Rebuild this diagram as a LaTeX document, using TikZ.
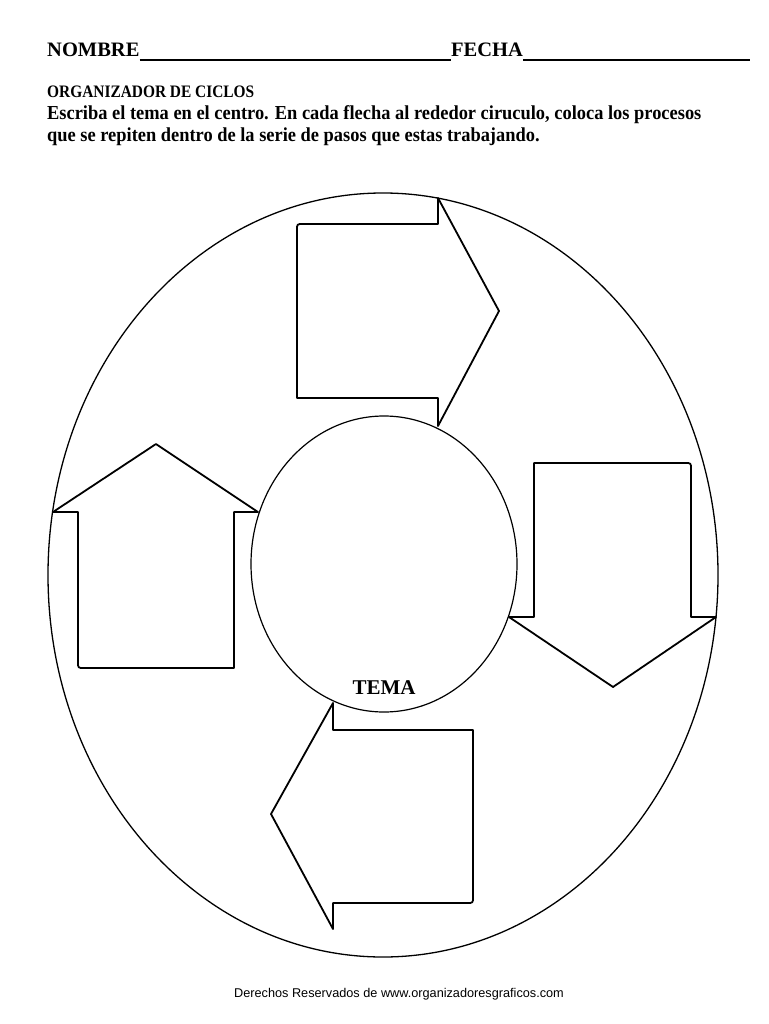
\documentclass[tikz,border=0pt]{standalone}
\usepackage{fontspec}
\setmainfont{Liberation Serif}
\setsansfont{Liberation Sans}
\newfontfamily\estrecha{Liberation Serif}[FakeStretch=0.88]
\newfontfamily\cuerpo{Liberation Serif}[FakeStretch=0.93]
\tikzset{
  flecha/.style={draw, line width=1.8pt, line join=round},
  texto/.style={anchor=base west, inner sep=0}
}
\begin{document}
\begin{tikzpicture}[x=1pt, y=-1pt]
    \useasboundingbox (0,0) rectangle (768,1024);
    % header
    \node[texto, font=\bfseries\fontsize{20.5}{22}\selectfont] (nombre) at (47,57) {NOMBRE};
    \node[texto, font=\bfseries\fontsize{20.5}{22}\selectfont] (fecha) at (451,57) {FECHA};
    \draw[line width=1.5pt] (nombre.base east) ++(0,3) coordinate (n1) -- (fecha.base west |- n1);
    \draw[line width=1.5pt] (fecha.base east) ++(0,3) coordinate (f1) -- (750,60);
    \node[texto, font=\estrecha\bfseries\fontsize{17.5}{20}\selectfont] (titulo) at (47,98) {ORGANIZADOR DE CICLOS};
    \node[texto, font=\cuerpo\bfseries\fontsize{19.8}{22}\selectfont] (linea1) at (47,120) {Escriba el tema en el centro. En cada flecha al rededor ciruculo, coloca los procesos};
    \node[texto, font=\cuerpo\bfseries\fontsize{19.8}{22}\selectfont] (linea2) at (47,142) {que se repiten dentro de la serie de pasos que estas trabajando.};
    % define variables.
    \def\centro{(383,575)}
    \def\tema{(384,564)}
    % draw the circles
    \draw[line width=1.3pt] \centro ellipse [x radius=335, y radius=382];
    \draw[line width=1.2pt] \tema ellipse [x radius=133, y radius=148];
    % draw the arrows
    \draw[flecha] (438,198) -- (499,311) -- (438,426) -- (438,398) -- (297,398) -- (297,230)
        .. controls (297,224) .. (303,224) -- (438,224) -- cycle;
    \draw[flecha] (613,687) -- (509,617) -- (534,617) -- (534,463) -- (685,463)
        .. controls (691,463) .. (691,469) -- (691,617) -- (716,617) -- cycle;
    \draw[flecha] (271,814) -- (333,703) -- (333,730) -- (473,730) -- (473,897)
        .. controls (473,903) .. (467,903) -- (333,903) -- (333,929) -- cycle;
    \draw[flecha] (156,444) -- (258,512) -- (234,512) -- (234,668) -- (84,668)
        .. controls (78,668) .. (78,662) -- (78,512) -- (53,512) -- cycle;
    % labels
    \node[font=\bfseries\fontsize{21}{24}\selectfont, anchor=base] (etiqueta) at (384,694) {TEMA};
    \node[texto, font=\sffamily\fontsize{12.7}{14}\selectfont] (pie) at (234,997) {Derechos Reservados de www.organizadoresgraficos.com};
\end{tikzpicture}
\end{document}
